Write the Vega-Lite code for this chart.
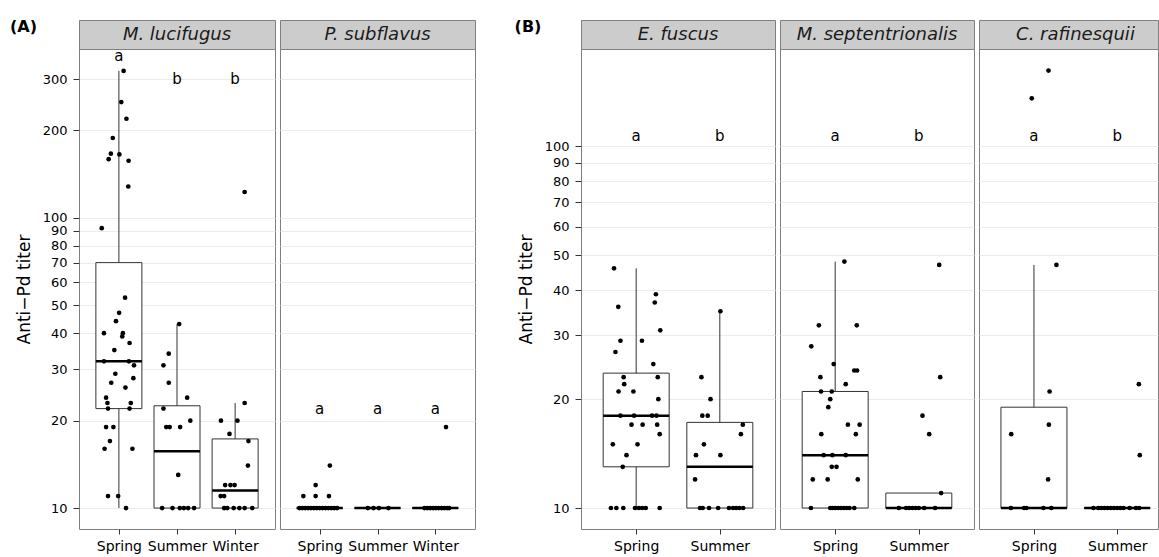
{
 "$schema": "https://vega.github.io/schema/vega-lite/v6.json",
 "padding": {"left": 10, "top": 18, "right": 0, "bottom": 0},
 "background": "white",
 "config": {
  "font": "DejaVu Sans",
  "view": {"stroke": "#7f7f7f", "strokeWidth": 1},
  "axis": {"labelFont": "DejaVu Sans", "titleFont": "DejaVu Sans", "labelFontSize": 14, "labelColor": "#000", "tickColor": "#333", "tickSize": 5, "domain": false, "gridColor": "#ebebeb", "gridWidth": 1, "titleFontSize": 17, "titleFontWeight": "normal", "titleColor": "#000"},
  "text": {"font": "DejaVu Sans"}
 },
 "datasets": {
  "d": [
   {"sp":"ML","k":"box","x":1,"y":22,"y2":70},{"sp":"ML","k":"box","x":2,"y":10,"y2":22.5},{"sp":"ML","k":"box","x":3,"y":10,"y2":17.3},
   {"sp":"ML","k":"wh","x":1,"y":10,"y2":320},{"sp":"ML","k":"wh","x":2,"y":10,"y2":43},{"sp":"ML","k":"wh","x":3,"y":10,"y2":23},
   {"sp":"ML","k":"med","x":1,"y":32},{"sp":"ML","k":"med","x":2,"y":15.7},{"sp":"ML","k":"med","x":3,"y":11.5},
   {"sp":"ML","k":"lab","x":1,"y":360,"t":"a"},{"sp":"ML","k":"lab","x":2,"y":300,"t":"b"},{"sp":"ML","k":"lab","x":3,"y":300,"t":"b"},
   {"sp":"ML","k":"pt","x":1.081,"y":320},{"sp":"ML","k":"pt","x":1.042,"y":250},{"sp":"ML","k":"pt","x":1.130,"y":219},{"sp":"ML","k":"pt","x":0.895,"y":188},{"sp":"ML","k":"pt","x":0.862,"y":166},{"sp":"ML","k":"pt","x":1.009,"y":165},{"sp":"ML","k":"pt","x":0.824,"y":159},{"sp":"ML","k":"pt","x":1.167,"y":157},{"sp":"ML","k":"pt","x":1.162,"y":128},{"sp":"ML","k":"pt","x":0.705,"y":92},{"sp":"ML","k":"pt","x":1.107,"y":53},{"sp":"ML","k":"pt","x":1.004,"y":47},{"sp":"ML","k":"pt","x":0.950,"y":44},{"sp":"ML","k":"pt","x":0.743,"y":40},{"sp":"ML","k":"pt","x":1.069,"y":40},{"sp":"ML","k":"pt","x":1.058,"y":39},{"sp":"ML","k":"pt","x":1.184,"y":37},{"sp":"ML","k":"pt","x":0.922,"y":35},{"sp":"ML","k":"pt","x":0.743,"y":32},{"sp":"ML","k":"pt","x":1.172,"y":32},{"sp":"ML","k":"pt","x":1.260,"y":31},{"sp":"ML","k":"pt","x":0.939,"y":29},{"sp":"ML","k":"pt","x":1.249,"y":28},{"sp":"ML","k":"pt","x":0.869,"y":27},{"sp":"ML","k":"pt","x":1.113,"y":26},{"sp":"ML","k":"pt","x":0.780,"y":24},{"sp":"ML","k":"pt","x":0.803,"y":23},{"sp":"ML","k":"pt","x":1.205,"y":23},{"sp":"ML","k":"pt","x":0.813,"y":22},{"sp":"ML","k":"pt","x":1.184,"y":22},{"sp":"ML","k":"pt","x":0.780,"y":19},{"sp":"ML","k":"pt","x":0.906,"y":19},{"sp":"ML","k":"pt","x":0.846,"y":17},{"sp":"ML","k":"pt","x":0.754,"y":16},{"sp":"ML","k":"pt","x":1.233,"y":16},{"sp":"ML","k":"pt","x":0.813,"y":11},{"sp":"ML","k":"pt","x":0.988,"y":11},{"sp":"ML","k":"pt","x":1.123,"y":10},
   {"sp":"ML","k":"pt","x":2.038,"y":43},{"sp":"ML","k":"pt","x":1.858,"y":34},{"sp":"ML","k":"pt","x":1.767,"y":31},{"sp":"ML","k":"pt","x":1.858,"y":27},{"sp":"ML","k":"pt","x":2.175,"y":24},{"sp":"ML","k":"pt","x":1.767,"y":22},{"sp":"ML","k":"pt","x":1.815,"y":19},{"sp":"ML","k":"pt","x":1.874,"y":19},{"sp":"ML","k":"pt","x":2.054,"y":19},{"sp":"ML","k":"pt","x":2.229,"y":20},{"sp":"ML","k":"pt","x":2.021,"y":13},{"sp":"ML","k":"pt","x":1.744,"y":10},{"sp":"ML","k":"pt","x":1.923,"y":10},{"sp":"ML","k":"pt","x":2.049,"y":10},{"sp":"ML","k":"pt","x":2.119,"y":10},{"sp":"ML","k":"pt","x":2.191,"y":10},{"sp":"ML","k":"pt","x":2.294,"y":10},
   {"sp":"ML","k":"pt","x":3.164,"y":122.5},{"sp":"ML","k":"pt","x":3.164,"y":23},{"sp":"ML","k":"pt","x":2.756,"y":20},{"sp":"ML","k":"pt","x":3.040,"y":20},{"sp":"ML","k":"pt","x":2.903,"y":18},{"sp":"ML","k":"pt","x":3.229,"y":17},{"sp":"ML","k":"pt","x":3.220,"y":14},{"sp":"ML","k":"pt","x":2.828,"y":12},{"sp":"ML","k":"pt","x":2.919,"y":12},{"sp":"ML","k":"pt","x":2.991,"y":12},{"sp":"ML","k":"pt","x":2.751,"y":11},{"sp":"ML","k":"pt","x":2.811,"y":11},{"sp":"ML","k":"pt","x":2.811,"y":10},{"sp":"ML","k":"pt","x":2.865,"y":10},{"sp":"ML","k":"pt","x":2.975,"y":10},{"sp":"ML","k":"pt","x":3.073,"y":10},{"sp":"ML","k":"pt","x":3.164,"y":10},{"sp":"ML","k":"pt","x":3.295,"y":10},

   {"sp":"PS","k":"box","x":1,"y":10,"y2":10},{"sp":"PS","k":"box","x":2,"y":10,"y2":10},{"sp":"PS","k":"box","x":3,"y":10,"y2":10},
   {"sp":"PS","k":"med","x":1,"y":10},{"sp":"PS","k":"med","x":2,"y":10},{"sp":"PS","k":"med","x":3,"y":10},
   {"sp":"PS","k":"lab","x":1,"y":22,"t":"a"},{"sp":"PS","k":"lab","x":2,"y":22,"t":"a"},{"sp":"PS","k":"lab","x":3,"y":22,"t":"a"},
   {"sp":"PS","k":"pt","x":1.176,"y":14},{"sp":"PS","k":"pt","x":0.930,"y":12},{"sp":"PS","k":"pt","x":0.717,"y":11},{"sp":"PS","k":"pt","x":0.930,"y":11},{"sp":"PS","k":"pt","x":1.160,"y":11},
   {"sp":"PS","k":"pt","x":0.650,"y":10},{"sp":"PS","k":"pt","x":0.700,"y":10},{"sp":"PS","k":"pt","x":0.750,"y":10},{"sp":"PS","k":"pt","x":0.800,"y":10},{"sp":"PS","k":"pt","x":0.850,"y":10},{"sp":"PS","k":"pt","x":0.900,"y":10},{"sp":"PS","k":"pt","x":0.950,"y":10},{"sp":"PS","k":"pt","x":1.000,"y":10},{"sp":"PS","k":"pt","x":1.050,"y":10},{"sp":"PS","k":"pt","x":1.100,"y":10},{"sp":"PS","k":"pt","x":1.150,"y":10},{"sp":"PS","k":"pt","x":1.200,"y":10},{"sp":"PS","k":"pt","x":1.250,"y":10},{"sp":"PS","k":"pt","x":1.300,"y":10},
   {"sp":"PS","k":"pt","x":1.833,"y":10},{"sp":"PS","k":"pt","x":1.931,"y":10},{"sp":"PS","k":"pt","x":2.025,"y":10},{"sp":"PS","k":"pt","x":2.189,"y":10},
   {"sp":"PS","k":"pt","x":3.185,"y":19},{"sp":"PS","k":"pt","x":2.812,"y":10},{"sp":"PS","k":"pt","x":2.862,"y":10},{"sp":"PS","k":"pt","x":2.911,"y":10},{"sp":"PS","k":"pt","x":2.960,"y":10},{"sp":"PS","k":"pt","x":3.009,"y":10},{"sp":"PS","k":"pt","x":3.058,"y":10},{"sp":"PS","k":"pt","x":3.108,"y":10},{"sp":"PS","k":"pt","x":3.157,"y":10},{"sp":"PS","k":"pt","x":3.206,"y":10},{"sp":"PS","k":"pt","x":3.239,"y":10},

   {"sp":"EF","k":"box","x":1,"y":13,"y2":23.6},{"sp":"EF","k":"box","x":2,"y":10,"y2":17.25},
   {"sp":"EF","k":"wh","x":1,"y":10,"y2":46},{"sp":"EF","k":"wh","x":2,"y":10,"y2":35},
   {"sp":"EF","k":"med","x":1,"y":18},{"sp":"EF","k":"med","x":2,"y":13},
   {"sp":"EF","k":"lab","x":1,"y":107,"t":"a"},{"sp":"EF","k":"lab","x":2,"y":107,"t":"b"},
   {"sp":"EF","k":"pt","x":0.735,"y":46},{"sp":"EF","k":"pt","x":0.786,"y":36},{"sp":"EF","k":"pt","x":1.222,"y":37},{"sp":"EF","k":"pt","x":1.236,"y":39},{"sp":"EF","k":"pt","x":1.288,"y":31},{"sp":"EF","k":"pt","x":0.812,"y":29},{"sp":"EF","k":"pt","x":1.069,"y":29},{"sp":"EF","k":"pt","x":0.752,"y":27},{"sp":"EF","k":"pt","x":1.205,"y":25},{"sp":"EF","k":"pt","x":0.850,"y":23},{"sp":"EF","k":"pt","x":1.258,"y":23},{"sp":"EF","k":"pt","x":0.857,"y":22},{"sp":"EF","k":"pt","x":0.789,"y":21},{"sp":"EF","k":"pt","x":0.967,"y":21},{"sp":"EF","k":"pt","x":1.265,"y":20},{"sp":"EF","k":"pt","x":0.812,"y":18},{"sp":"EF","k":"pt","x":0.975,"y":18},{"sp":"EF","k":"pt","x":1.190,"y":18},{"sp":"EF","k":"pt","x":1.243,"y":18},{"sp":"EF","k":"pt","x":0.944,"y":17},{"sp":"EF","k":"pt","x":1.077,"y":17},{"sp":"EF","k":"pt","x":1.251,"y":17},{"sp":"EF","k":"pt","x":1.281,"y":16},{"sp":"EF","k":"pt","x":0.721,"y":15},{"sp":"EF","k":"pt","x":1.016,"y":15},{"sp":"EF","k":"pt","x":0.884,"y":14},{"sp":"EF","k":"pt","x":0.839,"y":13},
   {"sp":"EF","k":"pt","x":0.698,"y":10},{"sp":"EF","k":"pt","x":0.763,"y":10},{"sp":"EF","k":"pt","x":0.846,"y":10},{"sp":"EF","k":"pt","x":0.986,"y":10},{"sp":"EF","k":"pt","x":1.032,"y":10},{"sp":"EF","k":"pt","x":1.072,"y":10},{"sp":"EF","k":"pt","x":1.114,"y":10},{"sp":"EF","k":"pt","x":1.281,"y":10},
   {"sp":"EF","k":"pt","x":2.007,"y":35},{"sp":"EF","k":"pt","x":1.780,"y":23},{"sp":"EF","k":"pt","x":1.889,"y":20},{"sp":"EF","k":"pt","x":1.791,"y":18},{"sp":"EF","k":"pt","x":1.855,"y":18},{"sp":"EF","k":"pt","x":2.275,"y":17},{"sp":"EF","k":"pt","x":2.252,"y":16},{"sp":"EF","k":"pt","x":1.810,"y":15},{"sp":"EF","k":"pt","x":1.715,"y":14},{"sp":"EF","k":"pt","x":2.007,"y":14},{"sp":"EF","k":"pt","x":1.704,"y":12},
   {"sp":"EF","k":"pt","x":1.764,"y":10},{"sp":"EF","k":"pt","x":1.795,"y":10},{"sp":"EF","k":"pt","x":1.871,"y":10},{"sp":"EF","k":"pt","x":1.980,"y":10},{"sp":"EF","k":"pt","x":2.109,"y":10},{"sp":"EF","k":"pt","x":2.158,"y":10},{"sp":"EF","k":"pt","x":2.195,"y":10},{"sp":"EF","k":"pt","x":2.234,"y":10},{"sp":"EF","k":"pt","x":2.279,"y":10},

   {"sp":"MS","k":"box","x":1,"y":10,"y2":21},{"sp":"MS","k":"box","x":2,"y":10,"y2":11},
   {"sp":"MS","k":"wh","x":1,"y":10,"y2":48},
   {"sp":"MS","k":"med","x":1,"y":14},{"sp":"MS","k":"med","x":2,"y":10},
   {"sp":"MS","k":"lab","x":1,"y":107,"t":"a"},{"sp":"MS","k":"lab","x":2,"y":107,"t":"b"},
   {"sp":"MS","k":"pt","x":1.110,"y":48},{"sp":"MS","k":"pt","x":0.805,"y":32},{"sp":"MS","k":"pt","x":1.258,"y":32},{"sp":"MS","k":"pt","x":0.714,"y":28},{"sp":"MS","k":"pt","x":0.982,"y":25},{"sp":"MS","k":"pt","x":1.228,"y":24},{"sp":"MS","k":"pt","x":1.262,"y":24},{"sp":"MS","k":"pt","x":0.823,"y":23},{"sp":"MS","k":"pt","x":1.126,"y":22},{"sp":"MS","k":"pt","x":0.831,"y":21},{"sp":"MS","k":"pt","x":0.959,"y":21},{"sp":"MS","k":"pt","x":0.941,"y":20},{"sp":"MS","k":"pt","x":0.918,"y":19},{"sp":"MS","k":"pt","x":1.152,"y":17},{"sp":"MS","k":"pt","x":1.292,"y":17},{"sp":"MS","k":"pt","x":0.834,"y":16},{"sp":"MS","k":"pt","x":1.247,"y":16},{"sp":"MS","k":"pt","x":0.862,"y":14},{"sp":"MS","k":"pt","x":0.967,"y":14},{"sp":"MS","k":"pt","x":1.126,"y":14},{"sp":"MS","k":"pt","x":0.959,"y":13},{"sp":"MS","k":"pt","x":1.016,"y":13},{"sp":"MS","k":"pt","x":0.732,"y":12},{"sp":"MS","k":"pt","x":0.910,"y":12},{"sp":"MS","k":"pt","x":1.270,"y":12},
   {"sp":"MS","k":"pt","x":0.710,"y":10},{"sp":"MS","k":"pt","x":0.941,"y":10},{"sp":"MS","k":"pt","x":0.967,"y":10},{"sp":"MS","k":"pt","x":1.001,"y":10},{"sp":"MS","k":"pt","x":1.035,"y":10},{"sp":"MS","k":"pt","x":1.069,"y":10},{"sp":"MS","k":"pt","x":1.103,"y":10},{"sp":"MS","k":"pt","x":1.137,"y":10},{"sp":"MS","k":"pt","x":1.171,"y":10},{"sp":"MS","k":"pt","x":1.228,"y":10},
   {"sp":"MS","k":"pt","x":2.244,"y":47},{"sp":"MS","k":"pt","x":2.256,"y":23},{"sp":"MS","k":"pt","x":2.044,"y":18},{"sp":"MS","k":"pt","x":2.124,"y":16},{"sp":"MS","k":"pt","x":2.267,"y":11},
   {"sp":"MS","k":"pt","x":1.761,"y":10},{"sp":"MS","k":"pt","x":1.848,"y":10},{"sp":"MS","k":"pt","x":1.886,"y":10},{"sp":"MS","k":"pt","x":1.924,"y":10},{"sp":"MS","k":"pt","x":1.962,"y":10},{"sp":"MS","k":"pt","x":1.999,"y":10},{"sp":"MS","k":"pt","x":2.064,"y":10},{"sp":"MS","k":"pt","x":2.195,"y":10},

   {"sp":"CR","k":"box","x":1,"y":10,"y2":19},{"sp":"CR","k":"box","x":2,"y":10,"y2":10},
   {"sp":"CR","k":"wh","x":1,"y":10,"y2":47},
   {"sp":"CR","k":"med","x":1,"y":10},{"sp":"CR","k":"med","x":2,"y":10},
   {"sp":"CR","k":"lab","x":1,"y":107,"t":"a"},{"sp":"CR","k":"lab","x":2,"y":107,"t":"b"},
   {"sp":"CR","k":"pt","x":1.175,"y":162},{"sp":"CR","k":"pt","x":0.974,"y":135.7},{"sp":"CR","k":"pt","x":1.270,"y":47},{"sp":"CR","k":"pt","x":1.188,"y":21},{"sp":"CR","k":"pt","x":1.179,"y":17},{"sp":"CR","k":"pt","x":0.727,"y":16},{"sp":"CR","k":"pt","x":1.170,"y":12},
   {"sp":"CR","k":"pt","x":0.723,"y":10},{"sp":"CR","k":"pt","x":0.882,"y":10},{"sp":"CR","k":"pt","x":0.910,"y":10},{"sp":"CR","k":"pt","x":1.114,"y":10},{"sp":"CR","k":"pt","x":1.209,"y":10},
   {"sp":"CR","k":"pt","x":2.260,"y":22},{"sp":"CR","k":"pt","x":2.271,"y":14},
   {"sp":"CR","k":"pt","x":1.715,"y":10},{"sp":"CR","k":"pt","x":1.772,"y":10},{"sp":"CR","k":"pt","x":1.810,"y":10},{"sp":"CR","k":"pt","x":1.848,"y":10},{"sp":"CR","k":"pt","x":1.886,"y":10},{"sp":"CR","k":"pt","x":1.923,"y":10},{"sp":"CR","k":"pt","x":1.961,"y":10},{"sp":"CR","k":"pt","x":1.999,"y":10},{"sp":"CR","k":"pt","x":2.037,"y":10},{"sp":"CR","k":"pt","x":2.075,"y":10},{"sp":"CR","k":"pt","x":2.150,"y":10},{"sp":"CR","k":"pt","x":2.226,"y":10},{"sp":"CR","k":"pt","x":2.263,"y":10}
  ]
 },
 "columns": 7,
 "spacing": {"row": 0, "column": 5},
 "bounds": "flush",
 "align": "each",
 "concat": [
  {"width": 64, "height": 29, "view": {"stroke": null},
   "data": {"values": [{"lbl": "(A)"}]},
   "mark": {"type": "text", "fontSize": 16, "fontWeight": "bold", "align": "left", "baseline": "middle", "dy": -8, "color": "#000"},
   "encoding": {"x": {"datum": 0, "type": "quantitative", "scale": {"domain": [0, 1]}, "axis": null}, "text": {"field": "lbl"}}},
  {"width": 196, "height": 29, "view": {"fill": "#cccccc", "stroke": "#7f7f7f"},
   "data": {"values": [{"lbl": "M. lucifugus"}]},
   "mark": {"type": "text", "fontSize": 18, "fontStyle": "italic", "baseline": "middle", "color": "#1a1a1a"},
   "encoding": {"text": {"field": "lbl"}}},
  {"width": 195, "height": 29, "view": {"fill": "#cccccc", "stroke": "#7f7f7f"},
   "data": {"values": [{"lbl": "P. subflavus"}]},
   "mark": {"type": "text", "fontSize": 18, "fontStyle": "italic", "baseline": "middle", "color": "#1a1a1a"},
   "encoding": {"text": {"field": "lbl"}}},
  {"width": 96, "height": 29, "view": {"stroke": null},
   "data": {"values": [{"lbl": "(B)"}]},
   "mark": {"type": "text", "fontSize": 16, "fontWeight": "bold", "baseline": "middle", "dy": -8, "color": "#000"},
   "encoding": {"text": {"field": "lbl"}}},
  {"width": 194, "height": 29, "view": {"fill": "#cccccc", "stroke": "#7f7f7f"},
   "data": {"values": [{"lbl": "E. fuscus"}]},
   "mark": {"type": "text", "fontSize": 18, "fontStyle": "italic", "baseline": "middle", "color": "#1a1a1a"},
   "encoding": {"text": {"field": "lbl"}}},
  {"width": 194, "height": 29, "view": {"fill": "#cccccc", "stroke": "#7f7f7f"},
   "data": {"values": [{"lbl": "M. septentrionalis"}]},
   "mark": {"type": "text", "fontSize": 18, "fontStyle": "italic", "baseline": "middle", "color": "#1a1a1a"},
   "encoding": {"text": {"field": "lbl"}}},
  {"width": 179, "height": 29, "view": {"fill": "#cccccc", "stroke": "#7f7f7f"},
   "data": {"values": [{"lbl": "C. rafinesquii"}]},
   "mark": {"type": "text", "fontSize": 18, "fontStyle": "italic", "baseline": "middle", "color": "#1a1a1a", "dx": 7},
   "encoding": {"text": {"field": "lbl"}}},

  {"width": 64, "height": 480, "view": {"stroke": null},
   "data": {"values": [{"lbl": ""}]},
   "mark": {"type": "text"}, "encoding": {"text": {"field": "lbl"}}},
  {"width": 196, "height": 480,
   "data": {"name": "d"}, "transform": [{"filter": "datum.sp == 'ML'"}],
   "encoding": {
    "x": {"field": "x", "type": "quantitative", "scale": {"domain": [0.4, 3.6], "nice": false, "zero": false},
          "axis": {"values": [1, 2, 3], "labelExpr": "datum.value == 1 ? 'Spring' : datum.value == 2 ? 'Summer' : 'Winter'", "grid": false, "title": null, "labelPadding": 5, "labelFlush": false, "labelOverlap": false}},
    "y": {"field": "y", "type": "quantitative", "scale": {"type": "log", "domain": [8.47, 380.7], "nice": false},
          "axis": {"values": [10, 20, 30, 40, 50, 60, 70, 80, 90, 100, 200, 300], "format": "d", "grid": true, "title": "Anti−Pd titer", "labelFontSize": 13, "tickSize": 6, "labelPadding": 6, "titlePadding": 9, "labelOverlap": false}}
   },
   "layer": [
    {"transform": [{"filter": "datum.k == 'wh'"}], "mark": {"type": "rule", "color": "#333", "strokeWidth": 1}, "encoding": {"y2": {"field": "y2"}}},
    {"transform": [{"filter": "datum.k == 'box'"}], "mark": {"type": "bar", "width": 46, "fill": "white", "stroke": "#333", "strokeWidth": 1}, "encoding": {"y2": {"field": "y2"}}},
    {"transform": [{"filter": "datum.k == 'med'"}], "mark": {"type": "tick", "orient": "horizontal", "size": 46, "thickness": 2.5, "color": "#000", "opacity": 1}},
    {"transform": [{"filter": "datum.k == 'pt'"}], "mark": {"type": "circle", "size": 22, "color": "#000", "opacity": 1}},
    {"data": {"values": [{"t10": 10}]}, "mark": {"type": "rule", "color": "#b22222", "strokeDash": [5, 4], "strokeWidth": 1.2},
     "encoding": {"x": {"datum": 0.4}, "x2": {"datum": 3.6}, "y": {"field": "t10", "type": "quantitative", "scale": {"type": "log", "domain": [8.47, 380.7], "nice": false}}}},
    {"transform": [{"filter": "datum.k == 'lab'"}], "mark": {"type": "text", "fontSize": 15, "baseline": "middle", "color": "#000"}, "encoding": {"text": {"field": "t"}}}
   ]},
  {"width": 195, "height": 480,
   "data": {"name": "d"}, "transform": [{"filter": "datum.sp == 'PS'"}],
   "encoding": {
    "x": {"field": "x", "type": "quantitative", "scale": {"domain": [0.4, 3.6], "nice": false, "zero": false},
          "axis": {"values": [1, 2, 3], "labelExpr": "datum.value == 1 ? 'Spring' : datum.value == 2 ? 'Summer' : 'Winter'", "grid": false, "title": null, "labelPadding": 5, "labelFlush": false, "labelOverlap": false}},
    "y": {"field": "y", "type": "quantitative", "scale": {"type": "log", "domain": [8.47, 380.7], "nice": false},
          "axis": {"values": [10, 20, 30, 40, 50, 60, 70, 80, 90, 100, 200, 300], "grid": true, "labels": false, "ticks": false, "title": null}}
   },
   "layer": [
    {"transform": [{"filter": "datum.k == 'box'"}], "mark": {"type": "bar", "width": 46, "fill": "white", "stroke": "#333", "strokeWidth": 1}, "encoding": {"y2": {"field": "y2"}}},
    {"transform": [{"filter": "datum.k == 'med'"}], "mark": {"type": "tick", "orient": "horizontal", "size": 46, "thickness": 2.5, "color": "#000", "opacity": 1}},
    {"transform": [{"filter": "datum.k == 'pt'"}], "mark": {"type": "circle", "size": 22, "color": "#000", "opacity": 1}},
    {"data": {"values": [{"t10": 10}]}, "mark": {"type": "rule", "color": "#b22222", "strokeDash": [5, 4], "strokeWidth": 1.2},
     "encoding": {"x": {"datum": 0.4}, "x2": {"datum": 3.6}, "y": {"field": "t10", "type": "quantitative", "scale": {"type": "log", "domain": [8.47, 380.7], "nice": false}}}},
    {"transform": [{"filter": "datum.k == 'lab'"}], "mark": {"type": "text", "fontSize": 15, "baseline": "middle", "color": "#000"}, "encoding": {"text": {"field": "t"}}}
   ]},
  {"width": 96, "height": 480, "view": {"stroke": null},
   "data": {"values": [{"lbl": ""}]},
   "mark": {"type": "text"}, "encoding": {"text": {"field": "lbl"}}},
  {"width": 194, "height": 480,
   "data": {"name": "d"}, "transform": [{"filter": "datum.sp == 'EF'"}],
   "encoding": {
    "x": {"field": "x", "type": "quantitative", "scale": {"domain": [0.4, 2.6], "nice": false, "zero": false},
          "axis": {"values": [1, 2], "labelExpr": "datum.value == 1 ? 'Spring' : 'Summer'", "grid": false, "title": null, "labelPadding": 5, "labelFlush": false, "labelOverlap": false}},
    "y": {"field": "y", "type": "quantitative", "scale": {"type": "log", "domain": [8.75, 185.8], "nice": false},
          "axis": {"values": [10, 20, 30, 40, 50, 60, 70, 80, 90, 100], "format": "d", "grid": true, "title": "Anti−Pd titer", "labelFontSize": 13, "tickSize": 6, "labelPadding": 6, "titlePadding": 9, "labelOverlap": false}}
   },
   "layer": [
    {"transform": [{"filter": "datum.k == 'wh'"}], "mark": {"type": "rule", "color": "#333", "strokeWidth": 1}, "encoding": {"y2": {"field": "y2"}}},
    {"transform": [{"filter": "datum.k == 'box'"}], "mark": {"type": "bar", "width": 66, "fill": "white", "stroke": "#333", "strokeWidth": 1}, "encoding": {"y2": {"field": "y2"}}},
    {"transform": [{"filter": "datum.k == 'med'"}], "mark": {"type": "tick", "orient": "horizontal", "size": 66, "thickness": 2.5, "color": "#000", "opacity": 1}},
    {"transform": [{"filter": "datum.k == 'pt'"}], "mark": {"type": "circle", "size": 22, "color": "#000", "opacity": 1}},
    {"data": {"values": [{"t10": 10}]}, "mark": {"type": "rule", "color": "#b22222", "strokeDash": [5, 4], "strokeWidth": 1.2},
     "encoding": {"x": {"datum": 0.4}, "x2": {"datum": 2.6}, "y": {"field": "t10", "type": "quantitative", "scale": {"type": "log", "domain": [8.75, 185.8], "nice": false}}}},
    {"transform": [{"filter": "datum.k == 'lab'"}], "mark": {"type": "text", "fontSize": 15, "baseline": "middle", "color": "#000"}, "encoding": {"text": {"field": "t"}}}
   ]},
  {"width": 194, "height": 480,
   "data": {"name": "d"}, "transform": [{"filter": "datum.sp == 'MS'"}],
   "encoding": {
    "x": {"field": "x", "type": "quantitative", "scale": {"domain": [0.4, 2.6], "nice": false, "zero": false},
          "axis": {"values": [1, 2], "labelExpr": "datum.value == 1 ? 'Spring' : 'Summer'", "grid": false, "title": null, "labelPadding": 5, "labelFlush": false, "labelOverlap": false}},
    "y": {"field": "y", "type": "quantitative", "scale": {"type": "log", "domain": [8.75, 185.8], "nice": false},
          "axis": {"values": [10, 20, 30, 40, 50, 60, 70, 80, 90, 100], "grid": true, "labels": false, "ticks": false, "title": null}}
   },
   "layer": [
    {"transform": [{"filter": "datum.k == 'wh'"}], "mark": {"type": "rule", "color": "#333", "strokeWidth": 1}, "encoding": {"y2": {"field": "y2"}}},
    {"transform": [{"filter": "datum.k == 'box'"}], "mark": {"type": "bar", "width": 66, "fill": "white", "stroke": "#333", "strokeWidth": 1}, "encoding": {"y2": {"field": "y2"}}},
    {"transform": [{"filter": "datum.k == 'med'"}], "mark": {"type": "tick", "orient": "horizontal", "size": 66, "thickness": 2.5, "color": "#000", "opacity": 1}},
    {"transform": [{"filter": "datum.k == 'pt'"}], "mark": {"type": "circle", "size": 22, "color": "#000", "opacity": 1}},
    {"data": {"values": [{"t10": 10}]}, "mark": {"type": "rule", "color": "#b22222", "strokeDash": [5, 4], "strokeWidth": 1.2},
     "encoding": {"x": {"datum": 0.4}, "x2": {"datum": 2.6}, "y": {"field": "t10", "type": "quantitative", "scale": {"type": "log", "domain": [8.75, 185.8], "nice": false}}}},
    {"transform": [{"filter": "datum.k == 'lab'"}], "mark": {"type": "text", "fontSize": 15, "baseline": "middle", "color": "#000"}, "encoding": {"text": {"field": "t"}}}
   ]},
  {"width": 179, "height": 480,
   "data": {"name": "d"}, "transform": [{"filter": "datum.sp == 'CR'"}],
   "encoding": {
    "x": {"field": "x", "type": "quantitative", "scale": {"domain": [0.4, 2.43], "nice": false, "zero": false},
          "axis": {"values": [1, 2], "labelExpr": "datum.value == 1 ? 'Spring' : 'Summer'", "grid": false, "title": null, "labelPadding": 5, "labelFlush": false, "labelOverlap": false}},
    "y": {"field": "y", "type": "quantitative", "scale": {"type": "log", "domain": [8.75, 185.8], "nice": false},
          "axis": {"values": [10, 20, 30, 40, 50, 60, 70, 80, 90, 100], "grid": true, "labels": false, "ticks": false, "title": null}}
   },
   "layer": [
    {"transform": [{"filter": "datum.k == 'wh'"}], "mark": {"type": "rule", "color": "#333", "strokeWidth": 1}, "encoding": {"y2": {"field": "y2"}}},
    {"transform": [{"filter": "datum.k == 'box'"}], "mark": {"type": "bar", "width": 66, "fill": "white", "stroke": "#333", "strokeWidth": 1}, "encoding": {"y2": {"field": "y2"}}},
    {"transform": [{"filter": "datum.k == 'med'"}], "mark": {"type": "tick", "orient": "horizontal", "size": 66, "thickness": 2.5, "color": "#000", "opacity": 1}},
    {"transform": [{"filter": "datum.k == 'pt'"}], "mark": {"type": "circle", "size": 22, "color": "#000", "opacity": 1}},
    {"data": {"values": [{"t10": 10}]}, "mark": {"type": "rule", "color": "#b22222", "strokeDash": [5, 4], "strokeWidth": 1.2},
     "encoding": {"x": {"datum": 0.4}, "x2": {"datum": 2.43}, "y": {"field": "t10", "type": "quantitative", "scale": {"type": "log", "domain": [8.75, 185.8], "nice": false}}}},
    {"transform": [{"filter": "datum.k == 'lab'"}], "mark": {"type": "text", "fontSize": 15, "baseline": "middle", "color": "#000"}, "encoding": {"text": {"field": "t"}}}
   ]}
 ]
}
